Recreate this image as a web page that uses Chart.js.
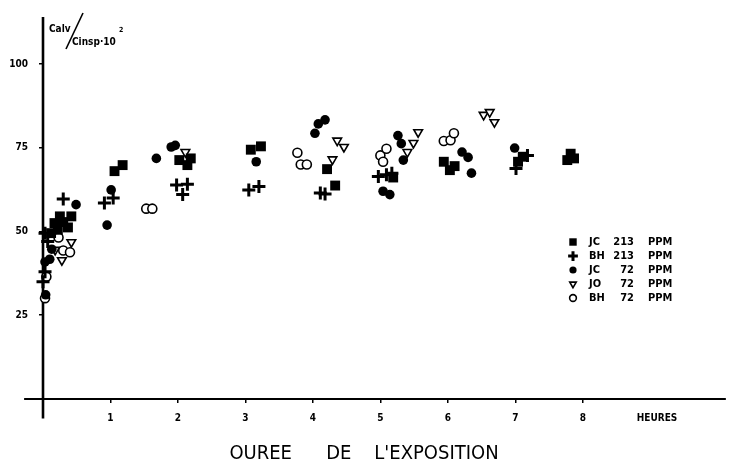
<!DOCTYPE html>
<html>
<head>
<meta charset="utf-8">
<style>
  html, body { margin: 0; padding: 0; background: #fff; }
  #wrap { width: 734px; height: 467px; }
</style>
</head>
<body>
<div id="wrap"><canvas id="exposition" width="734" height="467"></canvas></div>
<script src="https://cdn.jsdelivr.net/npm/chart.js"></script>
<script>
// séries : sujet + concentration
const seriesNames = ['JC', 'BH', 'JC', 'JO', 'BH'];
const seriesDoses = ['213', '213', '72', '72', '72'];

// durée d'exposition (heures) / Calv/Cinsp.10^2
const jc213Hours  = [0.12, 0.17, 0.25, 0.30, 0.37, 0.42, 0.22, 1.06, 1.18, 2.02, 2.14, 2.19, 3.08, 3.23, 4.21, 4.33, 5.19, 5.94, 6.03, 6.10, 7.04, 7.11, 7.77, 7.82, 7.87];
const jc213Values = [49.5, 52.5, 54.5, 52.8, 51.2, 54.5, 50.5, 68.0, 69.8, 71.3, 69.8, 71.8, 74.4, 75.4, 68.6, 63.7, 66.1, 70.8, 68.3, 69.5, 70.8, 72.3, 71.3, 73.2, 71.8];

const bh213Hours  = [0.03, 0.07, 0.03, 0.00, 0.30, 0.91, 1.04, 1.98, 2.14, 2.07, 3.05, 3.20, 4.11, 4.18, 4.97, 5.09, 5.17, 7.01, 7.18];
const bh213Values = [49.5, 47.0, 38.0, 35.0, 59.7, 58.5, 60.0, 63.9, 64.1, 61.0, 62.4, 63.4, 61.5, 61.2, 66.4, 66.9, 67.4, 68.8, 72.7];

const jc72Hours  = [0.03, 0.10, 0.13, 0.04, 0.49, 0.95, 1.01, 1.68, 1.90, 1.96, 3.16, 4.03, 4.08, 4.18, 5.04, 5.14, 5.26, 5.31, 5.34, 6.21, 6.30, 6.35, 6.99];
const jc72Values = [40.9, 41.7, 44.7, 31.1, 58.0, 51.9, 62.4, 71.8, 75.2, 75.7, 70.8, 79.3, 82.1, 83.3, 62.0, 61.0, 78.6, 76.2, 71.3, 73.7, 72.1, 67.4, 74.9];

const jo72Hours  = [0.42, 0.28, 0.18, 2.11, 4.36, 4.46, 4.29, 5.40, 5.49, 5.56, 6.53, 6.62, 6.69];
const jo72Values = [46.8, 41.4, 44.5, 73.7, 77.1, 75.2, 71.5, 73.7, 76.4, 79.6, 84.8, 85.6, 82.6];

const bh72Hours  = [0.23, 0.30, 0.40, 0.05, 0.03, 1.53, 1.62, 3.77, 3.82, 3.91, 5.00, 5.09, 5.04, 5.94, 6.04, 6.09];
const bh72Values = [48.2, 44.3, 43.8, 36.5, 30.1, 56.8, 56.8, 73.5, 70.0, 70.0, 72.7, 74.7, 70.8, 77.0, 77.2, 79.3];

const xTickValues = [1, 2, 3, 4, 5, 6, 7, 8, 9.1];
const xTickLabels = ['1', '2', '3', '4', '5', '6', '7', '8', 'HEURES'];
const yTickValues = [25, 50, 75, 100];

const police = "'Liberation Sans Narrow', 'DejaVu Sans Condensed', 'Arial Narrow', sans-serif";

function points(hours, values) {
  return hours.map((h, i) => ({ x: h, y: values[i] }));
}

const styles = [
  { pointStyle: 'rect', pointRadius: 7, backgroundColor: '#000', borderColor: '#000', borderWidth: 0, rotation: 0 },
  { pointStyle: 'cross', pointRadius: 6.5, backgroundColor: '#000', borderColor: '#000', borderWidth: 3, rotation: 0 },
  { pointStyle: 'circle', pointRadius: 4.8, backgroundColor: '#000', borderColor: '#000', borderWidth: 0, rotation: 0 },
  { pointStyle: 'triangle', pointRadius: 5, backgroundColor: '#fff', borderColor: '#000', borderWidth: 1.6, rotation: 180 },
  { pointStyle: 'circle', pointRadius: 4.5, backgroundColor: '#fff', borderColor: '#000', borderWidth: 1.6, rotation: 0 }
];

const allData = [
  points(jc213Hours, jc213Values),
  points(bh213Hours, bh213Values),
  points(jc72Hours, jc72Values),
  points(jo72Hours, jo72Values),
  points(bh72Hours, bh72Values)
];

const datasets = allData.map((d, i) => ({
  label: seriesNames[i] + ' ' + seriesDoses[i] + ' PPM',
  data: d,
  pointStyle: styles[i].pointStyle,
  pointRadius: styles[i].pointRadius,
  pointRotation: styles[i].rotation,
  pointBackgroundColor: styles[i].backgroundColor,
  pointBorderColor: styles[i].borderColor,
  pointBorderWidth: styles[i].borderWidth,
  showLine: false,
  clip: false
}));

// axes croisés qui dépassent l'origine, comme sur le tracé original
const axesCroises = {
  id: 'axesCroises',
  beforeDatasetsDraw(chart) {
    const { ctx, scales: { x, y } } = chart;
    const x0 = x.getPixelForValue(0);
    const y0 = y.getPixelForValue(0);
    ctx.save();
    ctx.strokeStyle = '#000';
    ctx.lineWidth = 2;
    ctx.beginPath();
    ctx.moveTo(x.getPixelForValue(-0.28), y0);
    ctx.lineTo(x.getPixelForValue(10.12), y0);
    ctx.stroke();
    ctx.lineWidth = 2.6;
    ctx.beginPath();
    ctx.moveTo(x0, y.getPixelForValue(114));
    ctx.lineTo(x0, y.getPixelForValue(-5.8));
    ctx.stroke();
    ctx.restore();
  }
};

// titre de l'axe vertical + légende dans le cadre
const annotations = {
  id: 'annotations',
  afterDraw(chart) {
    const ctx = chart.ctx;
    ctx.save();
    ctx.fillStyle = '#000';
    ctx.strokeStyle = '#000';
    ctx.textBaseline = 'alphabetic';
    ctx.font = 'bold 10px ' + police;
    ctx.textAlign = 'left';
    ctx.fillText('Calv', 49, 32);
    ctx.fillText('Cinsp·10', 72, 45);
    ctx.font = 'bold 7px ' + police;
    ctx.fillText('2', 119, 32);
    ctx.lineWidth = 1.6;
    ctx.beginPath();
    ctx.moveTo(83, 13);
    ctx.lineTo(66, 49);
    ctx.stroke();

    const rows = [242, 256, 270, 284, 298];
    ctx.font = 'bold 11px ' + police;
    ctx.textBaseline = 'middle';
    styles.forEach((s, i) => {
      const yy = rows[i];
      ctx.fillStyle = s.backgroundColor;
      ctx.strokeStyle = s.borderColor;
      ctx.lineWidth = s.borderWidth;
      Chart.helpers.drawPoint(ctx, {
        pointStyle: s.pointStyle,
        rotation: s.rotation,
        radius: s.pointRadius * 0.75,
        borderWidth: s.borderWidth
      }, 573, yy);
      ctx.fillStyle = '#000';
      ctx.textAlign = 'left';
      ctx.fillText(seriesNames[i], 589, yy);
      ctx.textAlign = 'right';
      ctx.fillText(seriesDoses[i], 634, yy);
      ctx.textAlign = 'left';
      ctx.fillText('PPM', 648, yy);
    });
    ctx.restore();
  }
};

new Chart(document.getElementById('exposition'), {
  type: 'scatter',
  data: { datasets: datasets },
  plugins: [axesCroises, annotations],
  options: {
    responsive: false,
    animation: false,
    events: [],
    layout: { padding: { top: 11, right: 6, left: 0, bottom: 0 } },
    plugins: {
      legend: { display: false },
      tooltip: { enabled: false },
      title: {
        display: true,
        position: 'bottom',
        text: "OUREE      DE    L'EXPOSITION",
        color: '#000',
        font: { family: police, size: 20, weight: 'normal', lineHeight: 1 },
        padding: { top: 11, bottom: 3 }
      }
    },
    scales: {
      x: {
        type: 'linear',
        min: 0,
        max: 10.1,
        border: { display: false },
        grid: {
          drawOnChartArea: false,
          drawTicks: true,
          tickLength: 4,
          lineWidth: 1.5,
          color: ctx => (ctx.tick && ctx.tick.value > 8.5) ? 'rgba(0,0,0,0)' : '#000'
        },
        afterBuildTicks: scale => { scale.ticks = xTickValues.map(v => ({ value: v })); },
        afterFit: scale => { scale.height = 34; },
        ticks: {
          color: '#000',
          padding: 9,
          maxRotation: 0,
          autoSkip: false,
          font: { family: police, size: 10, weight: 'bold' },
          callback: value => xTickLabels[xTickValues.indexOf(value)]
        }
      },
      y: {
        type: 'linear',
        min: 0,
        max: 114,
        border: { display: false },
        grid: {
          drawOnChartArea: false,
          drawTicks: true,
          tickLength: 4,
          lineWidth: 1.5,
          color: '#000'
        },
        afterBuildTicks: scale => { scale.ticks = yTickValues.map(v => ({ value: v })); },
        afterFit: scale => { scale.width = 43; },
        ticks: {
          color: '#000',
          padding: 11,
          font: { family: police, size: 10, weight: 'bold' }
        }
      }
    }
  }
});
</script>
</body>
</html>
